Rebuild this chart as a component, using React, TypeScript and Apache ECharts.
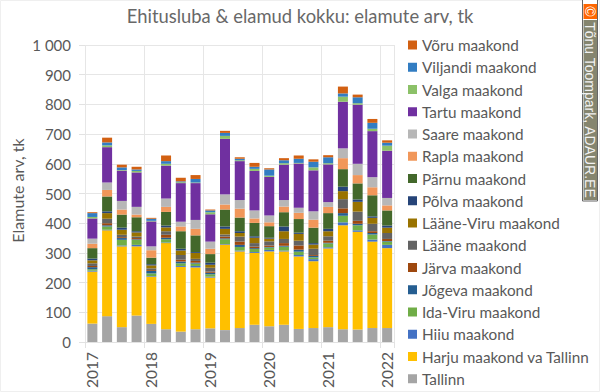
import React, { useEffect, useRef } from "react";
import * as echarts from "echarts";

const categories = [
  "2017", "2017 II", "2017 III", "2017 IV",
  "2018", "2018 II", "2018 III", "2018 IV",
  "2019", "2019 II", "2019 III", "2019 IV",
  "2020", "2020 II", "2020 III", "2020 IV",
  "2021", "2021 II", "2021 III", "2021 IV",
  "2022",
];

const tallinn = [62, 87, 50, 89, 61, 43, 35, 43, 46, 40, 47, 58, 53, 58, 44, 47, 50, 43, 42, 47, 47];
const harju = [175, 289, 272, 233, 159, 290, 218, 208, 171, 288, 258, 242, 252, 247, 244, 225, 265, 350, 329, 291, 269];
const hiiu = [3, 2, 3, 5, 2, 2, 3, 5, 3, 2, 3, 3, 5, 3, 5, 7, 4, 10, 5, 7, 11];
const idaViru = [5, 11, 19, 17, 9, 11, 9, 8, 8, 16, 12, 10, 8, 13, 11, 6, 13, 22, 17, 17, 11];
const jogeva = [7, 4, 6, 2, 8, 5, 6, 3, 5, 3, 7, 3, 2, 3, 7, 5, 2, 9, 5, 5, 2];
const jarva = [4, 7, 3, 4, 3, 10, 6, 6, 4, 6, 11, 5, 5, 9, 14, 3, 7, 16, 10, 6, 7];
const laane = [9, 15, 8, 5, 6, 12, 16, 7, 13, 7, 17, 12, 14, 14, 16, 21, 15, 31, 31, 25, 20];
const laaneViru = [10, 19, 17, 14, 10, 13, 15, 20, 10, 19, 12, 18, 9, 26, 23, 14, 17, 27, 33, 20, 18];
const polva = [6, 6, 7, 4, 4, 6, 6, 3, 7, 8, 6, 5, 3, 16, 4, 5, 8, 15, 8, 5, 7];
const parnu = [35, 50, 44, 47, 22, 46, 59, 56, 29, 57, 46, 45, 39, 48, 46, 52, 53, 59, 54, 71, 51];
const rapla = [15, 22, 17, 9, 25, 17, 16, 22, 18, 17, 30, 15, 13, 19, 21, 27, 21, 37, 28, 27, 17];
const saare = [17, 25, 29, 26, 13, 28, 16, 30, 24, 34, 29, 27, 23, 22, 17, 28, 16, 33, 38, 34, 25];
const tartu = [68, 119, 102, 116, 84, 111, 130, 124, 92, 187, 131, 133, 130, 119, 149, 138, 127, 157, 199, 155, 159];
const valga = [5, 6, 2, 5, 2, 6, 3, 2, 7, 10, 3, 7, 4, 5, 2, 10, 4, 17, 5, 8, 17];
const viljandi = [13, 10, 9, 5, 7, 9, 3, 12, 6, 10, 5, 7, 21, 10, 14, 19, 20, 11, 20, 20, 10];
const voru = [3, 16, 9, 9, 3, 19, 12, 13, 3, 7, 5, 13, 4, 7, 11, 8, 7, 23, 9, 13, 8];

const seriesNames = [
  "Tallinn", "Harju maakond va Tallinn", "Hiiu maakond", "Ida-Viru maakond", "Jõgeva maakond",
  "Järva maakond", "Lääne maakond", "Lääne-Viru maakond", "Põlva maakond", "Pärnu maakond",
  "Rapla maakond", "Saare maakond", "Tartu maakond", "Valga maakond", "Viljandi maakond", "Võru maakond",
];
const seriesValues = [
  tallinn, harju, hiiu, idaViru, jogeva, jarva, laane, laaneViru, polva, parnu, rapla, saare, tartu, valga, viljandi, voru,
];
const seriesColors = [
  "#A5A5A5", "#FFC000", "#4472C4", "#70AD47", "#255E91", "#9E480E", "#636363", "#997300",
  "#264478", "#43682B", "#F1975A", "#B7B7B7", "#7030A0", "#8CC168", "#327DC2", "#D26012",
];

const titleText = "Ehitusluba & elamud kokku: elamute arv, tk";
const yAxisName = "Elamute arv, tk";
const creditText = "Tõnu Toompark, ADAUR.EE";
const FONT = "Lato";

export default function App() {
  const ref = useRef<HTMLDivElement>(null);
  useEffect(() => {
    const chart = echarts.init(ref.current!, null, { renderer: "svg" });
    chart.setOption({
      animation: false,
      backgroundColor: "#fff",
      textStyle: { fontFamily: FONT },
      title: {
        text: titleText,
        left: 295,
        top: 2,
        textAlign: "center",
        textStyle: { fontFamily: FONT, fontSize: 18.4, fontWeight: "normal", color: "#686868" },
      },
      grid: { left: 85, right: 205.5, top: 45, bottom: 50, outerBoundsMode: "none" },
      legend: {
        orient: "vertical",
        left: 403,
        top: 32,
        height: 370,
        itemWidth: 9,
        itemHeight: 9,
        itemGap: 6.25,
        icon: "rect",
        selectedMode: false,
        data: [...seriesNames].reverse(),
        textStyle: { fontFamily: FONT, fontSize: 15.3, color: "#595959", lineHeight: 16 },
      },
      xAxis: {
        type: "category",
        data: categories,
        axisLine: { lineStyle: { color: "#E2E2E2" } },
        axisTick: { show: true, interval: 3, length: 6, lineStyle: { color: "#E2E2E2" } },
        splitLine: { show: true, interval: 3, lineStyle: { color: "#E6E6E6", width: 1 } },
        axisLabel: {
          interval: 3,
          rotate: 90,
          fontSize: 15.5,
          color: "#595959",
          margin: 10,
          fontFamily: FONT,
          formatter: (v: string) => v.slice(0, 4),
        },
      },
      yAxis: {
        type: "value",
        min: 0,
        max: 1000,
        interval: 100,
        name: yAxisName,
        nameLocation: "middle",
        nameGap: 60,
        nameMoveOverlap: false,
        nameRotate: 90,
        nameTextStyle: { fontFamily: FONT, fontSize: 16, color: "#595959", padding: [0, 0, 0, 6] },
        axisLine: { show: false },
        axisTick: { show: true, length: 6, lineStyle: { color: "#E2E2E2" } },
        splitLine: { show: true, lineStyle: { color: "#E6E6E6", width: 1 } },
        axisLabel: {
          fontSize: 15,
          color: "#595959",
          margin: 14,
          fontFamily: FONT,
          formatter: (v: number) => (v >= 1000 ? "1 000" : String(v)),
        },
      },
      series: seriesNames.map((name, i) => ({
        name,
        type: "bar",
        stack: "total",
        barWidth: 10,
        data: seriesValues[i],
        itemStyle: { color: seriesColors[i] },
      })),
      graphic: [
        { type: "rect", shape: { x: 0.5, y: 0.5, width: 599, height: 391 }, style: { fill: "none", stroke: "#EFEFEF", lineWidth: 1 } },
        { type: "rect", shape: { x: 582.5, y: -2, width: 15, height: 203 }, style: { fill: "#fff", stroke: "#666", lineWidth: 1 } },
        { type: "rect", shape: { x: 583.5, y: 4, width: 13.5, height: 15 }, style: { fill: "#FF6600" } },
        { type: "rect", shape: { x: 583.5, y: 20, width: 13.5, height: 180 }, style: { fill: "#85856F" } },
        {
          type: "text",
          x: 590,
          y: 11.5,
          rotation: -Math.PI / 2,
          style: { text: "©", fill: "#fff", font: "14px 'Liberation Sans'", align: "center", verticalAlign: "middle" },
        },
        {
          type: "text",
          x: 590,
          y: 110,
          rotation: -Math.PI / 2,
          style: { text: creditText, fill: "#F2F2F2", font: "14px 'Liberation Sans'", align: "center", verticalAlign: "middle" },
        },
      ],
    });
    return () => chart.dispose();
  }, []);
  return <div ref={ref} style={{ width: 600, height: 392, position: "absolute", left: 0, top: 0 }} />;
}
